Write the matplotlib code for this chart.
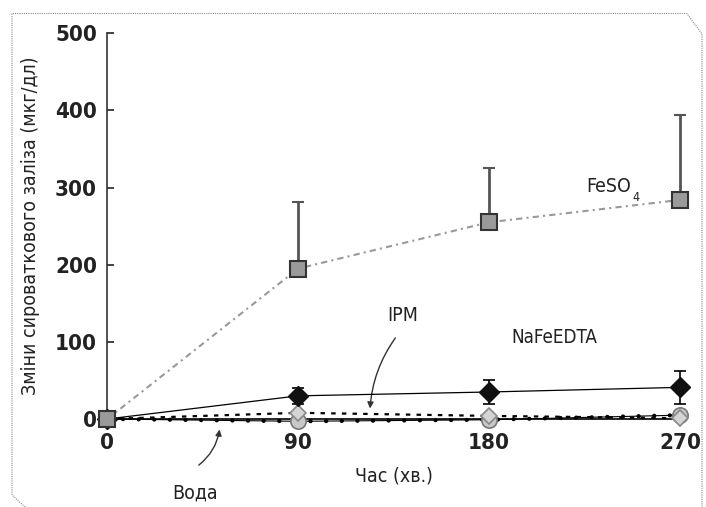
import numpy as np
import matplotlib
matplotlib.use("Agg")
from matplotlib import pyplot as plt
from matplotlib.lines import Line2D

plt.rcParams['font.family'] = ['DejaVu Sans']
plt.rcParams['font.stretch'] = 'condensed'

# Дані
chas = [0, 90, 180, 270]
feso4 = [0, 195, 255, 284]
feso4_err = [0, 86, 70, 110]
nafeedta = [0, 30, 35, 41]
nafeedta_err = [0, 10, 15, 21]
ipm = [0, 8, 4, 1]
voda = [0, -3, -1, 5]

y_ticks = [0, 100, 200, 300, 400, 500]
x_ticks = [0, 90, 180, 270]

fig = plt.figure(figsize=(7.06, 5.07), dpi=100)
ax = fig.add_axes([0.152, 0.1736, 0.811, 0.7607])

# Вода: тонка лінія + крапки
ax.plot(chas, voda, color="black", lw=0.8, zorder=2, clip_on=False)
ax.plot(chas, voda, color="black", lw=3, linestyle=(0, (0.05, 3.7)),
        dash_capstyle="round", zorder=2, clip_on=False)
ax.plot(chas, voda, linestyle="none", marker="o", ms=11, mfc="#c8c8c8",
        mec="#777777", mew=1.2, zorder=3, clip_on=False)

# IPM
ax.plot(chas, ipm, color="black", lw=1.6, linestyle=(0, (2, 2.8)), zorder=2, clip_on=False)
ax.plot(chas, ipm, linestyle="none", marker="D", ms=8.5, mfc="#d4d4d4",
        mec="#888888", mew=1.2, zorder=4, clip_on=False)

# NaFeEDTA
ax.errorbar(chas, nafeedta, yerr=nafeedta_err, fmt="none", ecolor="black",
            elinewidth=1.2, capsize=4, capthick=1.2, zorder=5, clip_on=False)
ax.plot(chas, nafeedta, color="black", lw=0.9, marker="D", ms=10, mfc="#111111",
        mec="#111111", zorder=6, clip_on=False)

# FeSO4
ax.errorbar(chas, feso4, yerr=[[0] * 4, feso4_err], fmt="none", ecolor="#555555",
            elinewidth=2, capsize=4.5, capthick=1.5, zorder=7, clip_on=False)
ax.plot(chas, feso4, color="#999999", lw=1.5, linestyle=(0, (3, 2, 1, 2)),
        marker="s", ms=11.5, mfc="#9a9a9a", mec="#333333", mew=1.5, zorder=8,
        clip_on=False)

ax.set_xlim(0, 270)
ax.set_ylim(0, 500)
ax.set_xticks(x_ticks)
ax.set_yticks(y_ticks)
ax.set_xticklabels([str(v) for v in x_ticks], fontweight="bold", fontsize=16)
ax.set_yticklabels([str(v) for v in y_ticks], fontweight="bold", fontsize=16)
ax.tick_params(axis="y", direction="in", length=5, width=1.2, pad=7.5, colors="#222222")
ax.tick_params(axis="x", length=0, pad=10, colors="#222222")
for s in ["top", "right"]:
    ax.spines[s].set_visible(False)
ax.spines["left"].set_linewidth(1.2)
ax.spines["bottom"].set_linewidth(1.2)
ax.spines["left"].set_color("#333333")

ax.set_xlabel("Час (хв.)", fontsize=14, labelpad=10, color="#222222")
ax.set_ylabel("Зміни сироваткового заліза (мкг/дл)", fontsize=14, labelpad=11, color="#222222")

# підписи серій
t = ax.text(226, 301, "FeSO", fontsize=14, ha="left", va="center", color="#222222")
ax.annotate("4", xy=(1, 0), xycoords=t, xytext=(1, -1), textcoords="offset points",
            fontsize=9, ha="left", va="center", color="#222222")
ax.text(211, 105, "NaFeEDTA", fontsize=13.5, ha="center", va="center", color="#222222")
ax.text(139.5, 134, "IPM", fontsize=14, ha="center", va="center", color="#222222")
ax.text(41.5, -96, "Вода", fontsize=14, ha="center", va="center", color="#222222")

ax.annotate("", xy=(123.8, 10), xytext=(136.6, 108), annotation_clip=False,
            arrowprops=dict(arrowstyle="-|>", color="#333333", lw=1,
                            mutation_scale=9, connectionstyle="arc3,rad=0.15"))
ax.annotate("", xy=(53.1, -10), xytext=(42.1, -62), annotation_clip=False,
            arrowprops=dict(arrowstyle="-|>", color="#333333", lw=1,
                            mutation_scale=9, connectionstyle="arc3,rad=0.22"))

# пунктирна рамка
W, H = 706.0, 507.0
pts = [(25, 507), (12, 495), (12, 13.5), (687, 13.5), (702, 34), (702, 507)]
fx = [p[0] / W for p in pts]
fy = [1 - p[1] / H for p in pts]
fig.add_artist(Line2D(fx, fy, transform=fig.transFigure, color="#888888",
                      lw=0.8, linestyle=(0, (1, 1))))

fig.savefig("out.png", dpi=100)
